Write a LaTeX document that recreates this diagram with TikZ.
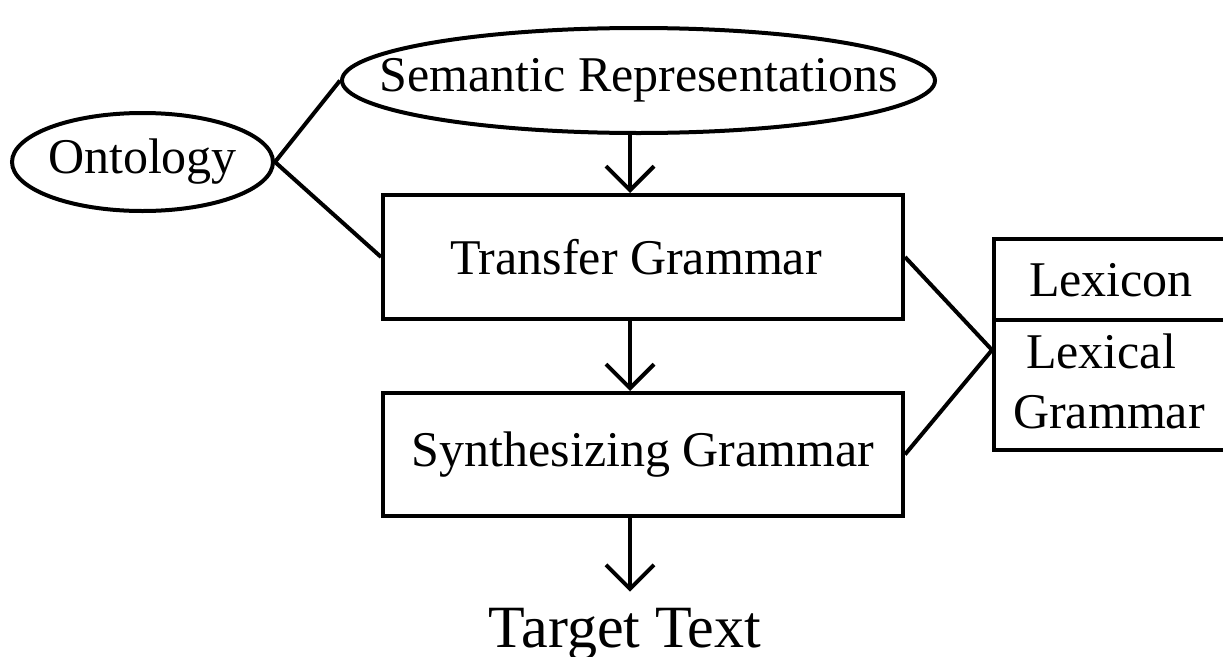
\documentclass[tikz,border=0pt]{standalone}
\usepackage{fontspec}
\setmainfont{Liberation Serif}
\usetikzlibrary{arrows.meta,shapes.geometric}
\begin{document}
\begin{tikzpicture}[x=1pt,y=-1pt,
  every node/.style={font=\fontsize{50}{60}\selectfont},
  conn/.style={line width=4pt},
  flow/.style={line width=4pt,-{Straight Barb[length=24pt,width=48pt]}},
  oval/.style={draw,ellipse,line width=4pt,inner sep=0pt},
  stagebox/.style={draw,rectangle,line width=4pt,inner sep=0pt,minimum width=520pt}]
\useasboundingbox (0,0) rectangle (1223,656);

% vertical spine of the processing chain
\coordinate (spine) at (630,0);

% knowledge sources
\node[oval,minimum width=593pt,minimum height=105pt,
      label={center:Semantic Representations}] (sr) at (638.5,80.5) {};
\node[oval,minimum width=261pt,minimum height=98pt,
      label={center:Ontology}] (ont) at (142.5,162) {};

% grammar stages
\node[stagebox,minimum height=124pt,
      label={[xshift=-7pt]center:Transfer Grammar}] (tg) at (643,257) {};
\node[stagebox,minimum height=123pt] (sg) at (643,454.5) {Synthesizing Grammar};

% lexicon box (runs off the right edge)
\node[draw,rectangle,line width=4pt,inner sep=0pt,
      minimum width=266pt,minimum height=211pt] (lexbox) at (1127,344.5) {};
\draw[conn] (lexbox.west |- 0,320) -- (lexbox.east |- 0,320);
\node[anchor=base] (lexicon) at (1111,296) {Lexicon};
\node[anchor=base] (lexical) at (1101,368) {Lexical};
\node[anchor=base] (lexgram) at (1109,428) {Grammar};
\coordinate (lexjoin) at (lexbox.west |- 0,350);

% output
\node[anchor=base,inner sep=0pt,outer ysep=16pt,
      font=\fontsize{60}{72}\selectfont] (tt) at (625,647) {Target Text};

% connectors
\draw[conn] (ont.east) -- (sr.west);
\draw[conn] (ont.east) -- (tg.west);
\draw[conn] (tg.east) -- (lexjoin);
\draw[conn] (sg.east) -- (lexjoin);

\draw[flow] (sr.south -| spine) -- (tg.north -| spine);
\draw[flow] (tg.south -| spine) -- (sg.north -| spine);
\draw[flow] (sg.south -| spine) -- (tt.north -| spine);
\end{tikzpicture}
\end{document}
